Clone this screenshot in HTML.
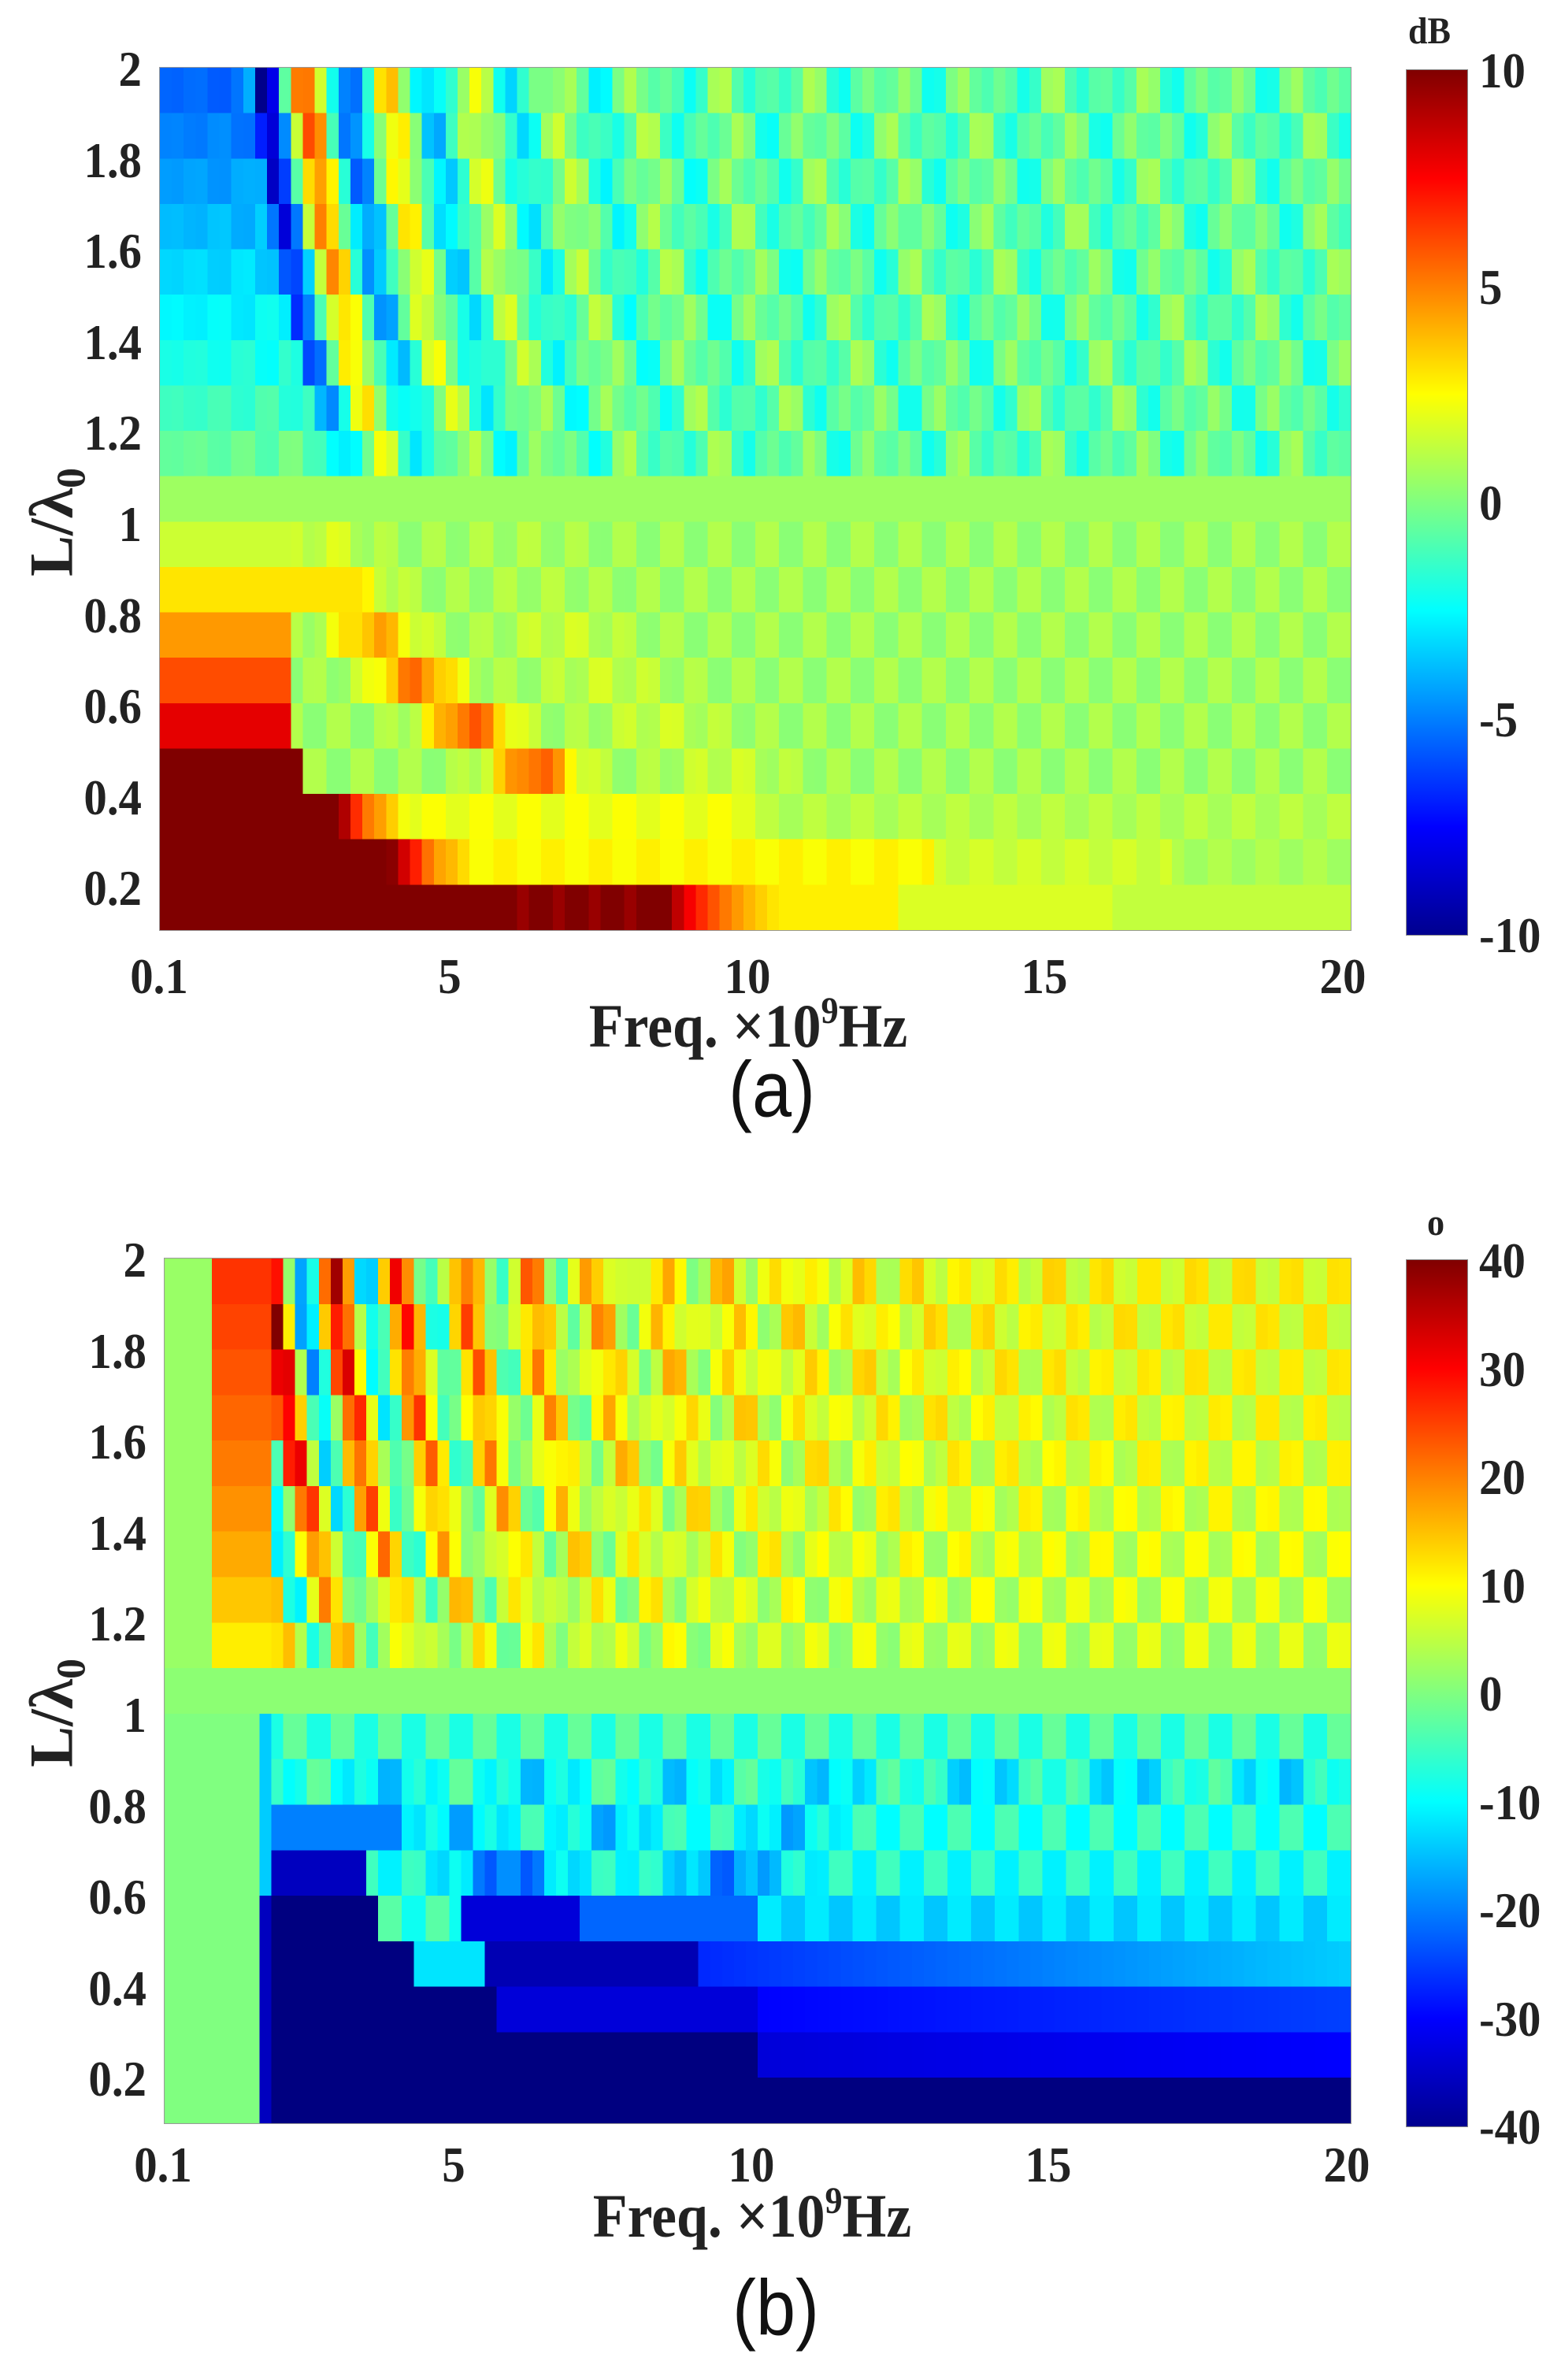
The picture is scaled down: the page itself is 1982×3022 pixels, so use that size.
<!DOCTYPE html>
<html><head><meta charset="utf-8"><style>
body{margin:0;background:#fff;width:1982px;height:3022px;position:relative;overflow:hidden;font-family:"Liberation Serif",serif;}
.t{position:absolute;font-weight:bold;font-size:64px;color:#222;line-height:1;white-space:nowrap;}
.r{transform:translate(-100%,-50%) scaleX(0.92);transform-origin:right center;}
.c{transform:translate(-50%,-50%) scaleX(0.92);}
.l{transform:translate(0,-50%) scaleX(0.92);transform-origin:left center;}
canvas{position:absolute;image-rendering:pixelated;}
.cb{position:absolute;background:linear-gradient(to top,#00008f 0%,#0000ff 12.5%,#00ffff 37.5%,#80ff80 50%,#ffff00 62.5%,#ff0000 87.5%,#800000 100%);border:1px solid #888;}
.cap{position:absolute;font-family:"Liberation Sans",sans-serif;font-size:100px;color:#111;transform:translate(-50%,-50%) scaleX(0.9);}
</style></head><body>
<canvas id="ca" width="100" height="19" style="left:202px;top:85px;width:1514px;height:1097px;border:1px solid #999;box-sizing:border-box"></canvas>
<canvas id="cbb" width="100" height="19" style="left:208px;top:1597px;width:1508px;height:1100px;border:1px solid #999;box-sizing:border-box"></canvas>
<div class="cb" style="left:1785px;top:88px;width:77px;height:1098px"></div>
<div class="cb" style="left:1785px;top:1599px;width:77px;height:1100px"></div>
<div id="txt"></div>
<div class="cap" style="left:980px;top:1384px">(a)</div>
<div class="cap" style="left:985px;top:2931px">(b)</div>
<script>
function jet(t){t=Math.max(0,Math.min(1,t));const c=x=>Math.round(255*Math.max(0,Math.min(1,x)));
return [c(1.5-Math.abs(4*t-3)),c(1.5-Math.abs(4*t-2)),c(1.5-Math.abs(4*t-1))];}
function draw(id,fn,vmin,vmax){const cv=document.getElementById(id),ctx=cv.getContext('2d');const im=ctx.createImageData(100,19);
for(let i=0;i<19;i++){const L=1.9-0.1*i;for(let j=0;j<100;j++){const f=0.1+0.2*j;let v=fn(f,L,i,j);
const k=jet((v-vmin)/(vmax-vmin));const p=(i*100+j)*4;im.data[p]=k[0];im.data[p+1]=k[1];im.data[p+2]=k[2];im.data[p+3]=255;}}
ctx.putImageData(im,0,0);}
function chk(i,j){return ((i+Math.floor(j/2))%2)?1:-1;}
function bump(f,c,w){return Math.exp(-Math.pow((f-c)/w,2));}
draw('ca',function(f,L,i,j){
 if(i==9) return 0.6;
 if(L>1){const s=3.35/L;let v;
   const base=-6*Math.pow((L-1)/0.9,0.8);
   if(f<s-0.3) v=base+0.5;
   else{const A=8*Math.exp(-(f-s)/2.2)*Math.pow((L-1)/0.9,0.6)+0.8;v=-A*Math.cos(2*Math.PI*(f-s)/1.4)-0.7;}
   return v+0.7*chk(i,j)*Math.min(1,f/3);}
 const ck=0.4*chk(i,j);
 if(i==18){if(f<6)return 12;if(f<8.5)return (j%3==0)?9.5:11.5;return Math.max(f<12.5?2.8:(f<16?1.8:1.3),10*Math.exp(-(f-8.5)/1.5));}
 if(i==17){if(f<3.9)return 12;return Math.max(10*Math.exp(-(f-3.9)/1.0),f<13?2.6:(f<17?1.5:0.8))+ck*0.5;}
 if(i==16){if(f<3)return 12;return Math.max(10*Math.exp(-(f-3)/0.8),f<10?2.2:1)+ck*0.6;}
 const low={10:1.5,11:3,12:4.5,13:6,14:8,15:10.5}[i];
 const fbd={10:2.2,11:3.5,12:2.2,13:2.2,14:2.3,15:2.4}[i];
 const bc={10:2.8,11:3.2,12:3.6,13:4.3,14:5.2,15:6.3}[i];
 const ba={10:1,11:2,12:3.5,13:4.5,14:5,15:5}[i];
 if(f<fbd) return low;
 let v=0.6+ba*bump(f,bc,0.7)+0.8*bump(f,bc+3.2,1)*(i>11?1:0.3);
 return v+ck;
},-10,10);
draw('cbb',function(f,L,i,j){
 if(i==9) return 1;
 if(L>1){const a=Math.pow((L-1)/0.9,0.5);
   if(f<0.8) return 2;
   if(f<1.8) return a*22+4;
   const s=3.35/L;const v=a*(6+32*Math.exp(-(f-2)/4)*Math.cos(2*Math.PI*(f-s)/1.1))+3;
   return v+3.5*chk(i,j);}
 if(f<1.7) return 0;
 if(f<1.9) return i>=14?-35:-14;
 const ck=3*chk(i,j);
 if(i==18) return -40;
 if(i==17){if(f<10)return -40;return -33+(f-10)*0.3;}
 if(i==16){if(f<5.6)return -40;if(f<10)return -33;return -30+(f-10)*0.5;}
 if(i==15){if(f<4.3)return -40;if(f<5.5)return -12;if(f<9)return -36;return -27+(f-9)*1.2;}
 if(i==14){if(f<3.6)return -40;if(f<5)return -6+ck;if(f<7)return -33;if(f<10)return -22;return -13+ck*0.5;}
 if(i==13){if(f<3.4)return -35;return -8-14*bump(f,5.8,0.8)-12*bump(f,9.5,0.8)+ck;}
 if(i==12){if(f<4)return -20;return -7-8*bump(f,5,0.6)-8*bump(f,7.5,0.6)-8*bump(f,10.5,0.6)+ck;}
 if(i==11) return -9+4*Math.cos(2*Math.PI*f/2.5)+ck;
 return -5+ck;
},-40,40);
let h='';
function T(x,y,s,cls,extra){h+=`<div class="t ${cls}" style="left:${x}px;top:${y}px;${extra||''}">${s}</div>`;}
['2','1.8','1.6','1.4','1.2','1','0.8','0.6','0.4','0.2'].forEach((s,k)=>{T(180,88+k*115.6,s,'r');T(186,1600+k*115.6,s,'r');});
[['0.1',202],['5',571],['10',949],['15',1326],['20',1705]].forEach(a=>{T(a[1],1240,a[0],'c');T(a[1]+5,2749,a[0],'c');});
['10','5','0','-5','-10'].forEach((s,k)=>T(1878,90+k*274.5,s,'l'));
['40','30','20','10','0','-10','-20','-30','-40'].forEach((s,k)=>T(1878,1601+k*137.5,s,'l'));
T(1815,40,'dB','c','font-size:48px');
T(1823,1553,'o','c','font-size:48px');
const xl='Freq. ×10<sup style="font-size:48px;vertical-align:30px">9</sup>Hz';
T(950,1301,xl,'c','font-size:78px');T(955,2812,xl,'c','font-size:78px');
const yl='L/λ<sub style="font-size:52px;vertical-align:-16px">0</sub>';
T(72,663,yl,'c','font-size:78px;transform:translate(-50%,-50%) rotate(-90deg)');
T(72,2175,yl,'c','font-size:78px;transform:translate(-50%,-50%) rotate(-90deg)');
document.getElementById('txt').innerHTML=h;
</script>
</body></html>
